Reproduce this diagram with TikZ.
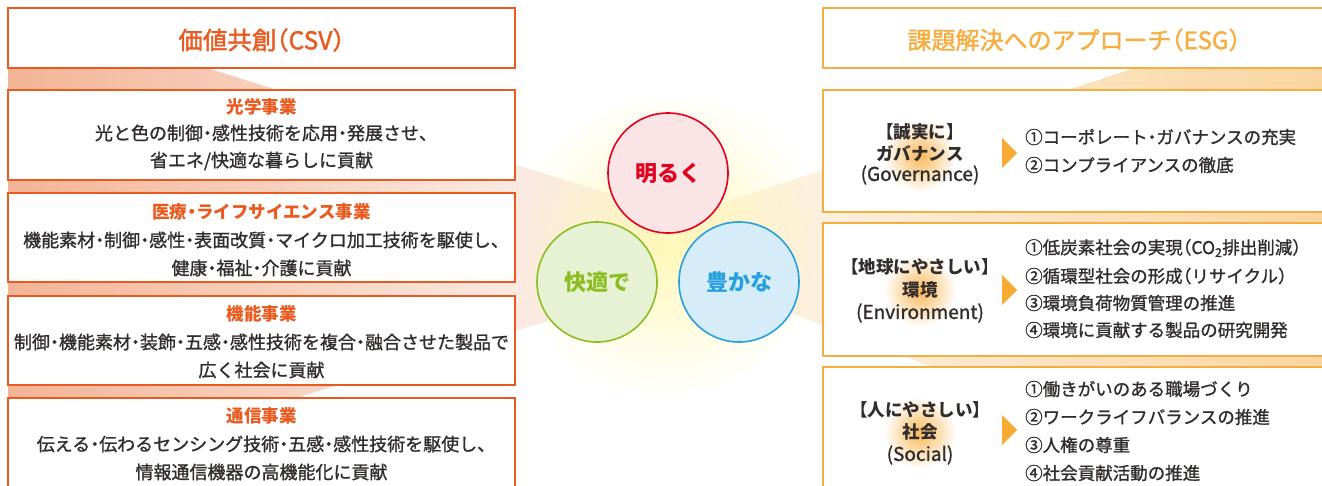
\documentclass[tikz,border=0pt]{standalone}
\usepackage{fontspec}
\setmainfont{Noto Sans CJK JP}[RawFeature=+halt]
\newfontfamily\medfont{Noto Sans CJK JP}[FakeBold=1.2, RawFeature=+halt]
\newfontfamily\headfont{Noto Sans CJK JP}[FakeBold=1.6, RawFeature=+halt]
\usetikzlibrary{fadings}
\tikzfading[name=glowfade, inner color=transparent!0, outer color=transparent!100]
\definecolor{lor}{RGB}{234,90,30}
\definecolor{ror}{RGB}{246,174,64}
\definecolor{salmon}{RGB}{243,180,150}
\definecolor{paleS}{RGB}{250,234,226}
\definecolor{rbA}{RGB}{253,240,222}
\definecolor{rbB}{RGB}{250,213,160}
\definecolor{glowY}{RGB}{255,248,185}
\definecolor{labglow}{RGB}{250,185,90}
\definecolor{tri}{RGB}{246,172,50}
\definecolor{txt}{RGB}{50,45,45}
\definecolor{cred}{RGB}{226,0,30}
\definecolor{credf}{RGB}{250,228,230}
\definecolor{cgrn}{RGB}{140,190,35}
\definecolor{cgrnf}{RGB}{231,241,211}
\definecolor{cblu}{RGB}{38,160,222}
\definecolor{cbluf}{RGB}{214,236,248}
\tikzset{
  lbox/.style={draw=lor, line width=1.8pt, fill=white, minimum width=507pt, inner sep=0pt},
  rbox/.style={draw=ror, line width=1.8pt, fill=white, minimum width=540pt, inner sep=0pt},
  lhead/.style={text=lor, font=\headfont\fontsize{24.5}{26}\selectfont},
  rhead/.style={text=ror, font=\headfont\fontsize{24}{26}\selectfont},
  ttl/.style={text=lor, font=\fontsize{17.5}{20}\selectfont\bfseries, inner sep=0pt},
  body/.style={text=txt, font=\medfont\fontsize{18}{20}\selectfont, inner sep=0pt},
  lab/.style={text=txt, font=\fontsize{17.5}{19}\selectfont\bfseries, inner sep=0pt},
  labl/.style={text=txt, font=\medfont\fontsize{19}{21}\selectfont, inner sep=0pt},
  item/.style={text=txt, font=\medfont\fontsize{17.5}{19}\selectfont, inner sep=0pt, anchor=west},
  arrowtri/.style={fill=tri, draw=none},
  ball/.style={circle, minimum size=120pt, line width=1.6pt, inner sep=0pt, font=\fontsize{22}{24}\selectfont\bfseries},
}
\begin{document}
\begin{tikzpicture}[x=1pt,y=-1pt]
\useasboundingbox (0,0) rectangle (1322,485);
\clip (0,0) rectangle (1322,485);
% left beam
\shade[left color=salmon, right color=paleS] (8,68) -- (207,68) -- (515,164.4) -- (515,331) -- (8,486) -- cycle;
\fill[paleS] (514,164.1) -- (660,209.8) -- (660,287.5) -- (514,331.3) -- cycle;
% right beam
\shade[left color=rbA, right color=rbB] (823,170) -- (1135,68) -- (1322,68) -- (1322,486) -- (1243,486) -- (823,325.3) -- cycle;
\fill[rbA] (680,216.8) -- (824,169.7) -- (824,325.7) -- (680,271) -- cycle;
% central glow
\fill[glowY, path fading=glowfade] (668,245) circle (155pt);
% left column
\node[lbox, minimum height=60pt] (lh) at (261.5,38) {};
\node[lhead] (lht) at (261.5,40) {価値共創（CSV）};
\node[lbox, minimum height=90pt] (l1) at (261.5,135) {};
\node[lbox, minimum height=89pt] (l2) at (261.5,237.5) {};
\node[lbox, minimum height=89pt] (l3) at (261.5,340.5) {};
\node[lbox, minimum height=110pt] (l4) at (261.5,453) {};
\node[ttl] (l1t) at (261.5,107) {光学事業};
\node[body] (l1a) at (261.5,133) {光と色の制御・感性技術を応用・発展させ、};
\node[body] (l1b) at (261.5,161) {省エネ/快適な暮らしに貢献};
\node[ttl] (l2t) at (261.5,212) {医療・ライフサイエンス事業};
\node[body] (l2a) at (261.5,240) {機能素材・制御・感性・表面改質・マイクロ加工技術を駆使し、};
\node[body] (l2b) at (261.5,268) {健康・福祉・介護に貢献};
\node[ttl] (l3t) at (261.5,314) {機能事業};
\node[body] (l3a) at (261.5,342) {制御・機能素材・装飾・五感・感性技術を複合・融合させた製品で};
\node[body] (l3b) at (261.5,370) {広く社会に貢献};
\node[ttl] (l4t) at (261.5,416) {通信事業};
\node[body] (l4a) at (261.5,444) {伝える・伝わるセンシング技術・五感・感性技術を駆使し、};
\node[body] (l4b) at (261.5,472) {情報通信機器の高機能化に貢献};
% right column
\node[rbox, minimum height=60pt] (rh) at (1093,38) {};
\node[rhead] (rht) at (1074,40) {課題解決へのアプローチ（ESG）};
\node[rbox, minimum height=122pt] (r1) at (1093,151) {};
\node[rbox, minimum height=133pt] (r2) at (1093,289.5) {};
\node[rbox, minimum height=130pt] (r3) at (1093,432) {};
% label glows
\fill[labglow, path fading=glowfade] (920,156) circle (36pt);
\fill[labglow, path fading=glowfade] (920,291) circle (36pt);
\fill[labglow, path fading=glowfade] (920,433) circle (36pt);
\node[lab] (g1) at (920,132) {【誠実に】};
\node[lab] (g2) at (920,154) {ガバナンス};
\node[labl] (g3) at (920,175) {(Governance)};
\node[lab] (e1) at (920,267) {【地球にやさしい】};
\node[lab] (e2) at (920,290) {環境};
\node[labl] (e3) at (920,313) {(Environment)};
\node[lab] (s1) at (920,410) {【人にやさしい】};
\node[lab] (s2) at (920,432) {社会};
\node[labl] (s3) at (920,455) {(Social)};
\fill[arrowtri] (1002,138) -- (1017,153) -- (1002,168) -- cycle;
\fill[arrowtri] (1002,275) -- (1017,290) -- (1002,305) -- cycle;
\fill[arrowtri] (1002,415) -- (1017,430) -- (1002,445) -- cycle;
\node[item] (g4) at (1025,137) {①コーポレート・ガバナンスの充実};
\node[item] (g5) at (1025,165) {②コンプライアンスの徹底};
\node[item] (e4) at (1025,248) {①低炭素社会の実現（CO\textsubscript{2}排出削減）};
\node[item] (e5) at (1025,276) {②循環型社会の形成（リサイクル）};
\node[item] (e6) at (1025,303) {③環境負荷物質管理の推進};
\node[item] (e7) at (1025,330) {④環境に貢献する製品の研究開発};
\node[item] (s4) at (1025,389) {①働きがいのある職場づくり};
\node[item] (s5) at (1025,417) {②ワークライフバランスの推進};
\node[item] (s6) at (1025,445) {③人権の尊重};
\node[item] (s7) at (1025,473) {④社会貢献活動の推進};
% circles
\node[ball, draw=cred, fill=credf, text=cred] (c1) at (668,173) {明るく};
\node[ball, draw=cgrn, fill=cgrnf, text=cgrn] (c2) at (597,282) {快適で};
\node[ball, draw=cblu, fill=cbluf, text=cblu] (c3) at (739,282) {豊かな};
\end{tikzpicture}
\end{document}
